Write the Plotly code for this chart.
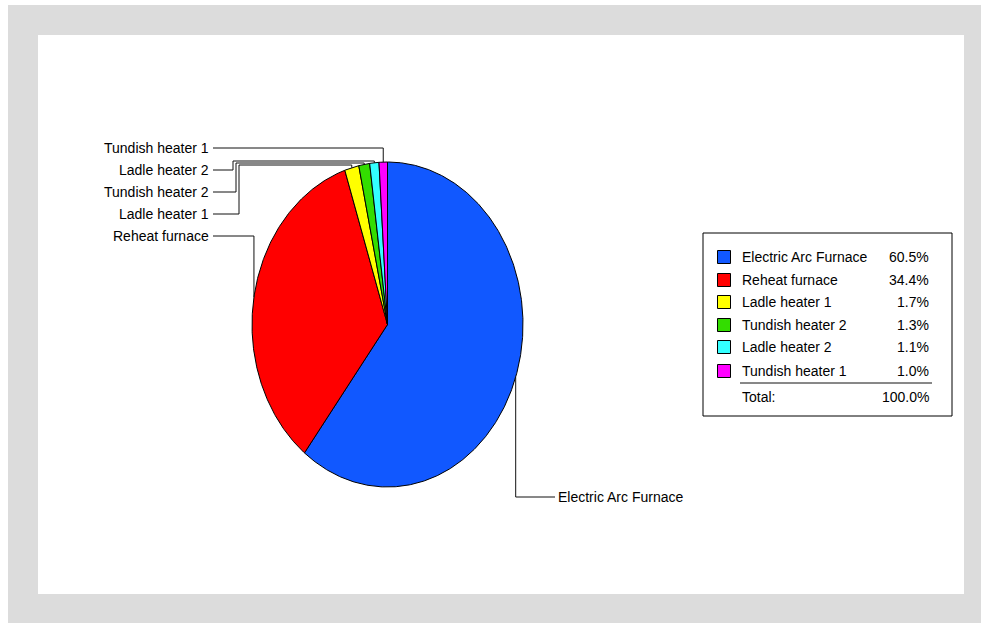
import math
import plotly.graph_objects as go

# ---- data ----
categories = ["Electric Arc Furnace", "Reheat furnace", "Ladle heater 1",
              "Tundish heater 2", "Ladle heater 2", "Tundish heater 1"]
shares = [60.5, 34.4, 1.7, 1.3, 1.1, 1.0]
colors = ["#1158ff", "#ff0000", "#ffff00", "#33dd00", "#33ffff", "#ff00ff"]
total_label = "Total:"

# ---- layout constants (pixel space) ----
W, H = 981, 623
CX, CY, RX, RY = 387.5, 324.5, 135.5, 162.5
FONT = "Liberation Sans"
FS = 14

fig = go.Figure()

def pt(angle_deg, r=1.0):
    a = math.radians(angle_deg)
    return CX + r * RX * math.sin(a), CY - r * RY * math.cos(a)

# pie slices (clockwise from 12 o'clock)
tot = sum(shares)
start = 0.0
mids = []
for name, v, c in zip(categories, shares, colors):
    end = start + 360.0 * v / tot
    n = max(4, int((end - start) / 0.5))
    xs, ys = [CX], [CY]
    for i in range(n + 1):
        x, y = pt(start + (end - start) * i / n)
        xs.append(x); ys.append(y)
    xs.append(CX); ys.append(CY)
    fig.add_trace(go.Scatter(x=xs, y=ys, mode="lines", fill="toself",
                             fillcolor=c, line=dict(color="#000000", width=1),
                             hoverinfo="text", text=name, showlegend=False))
    mids.append((start + end) / 2)
    start = end

shapes = []
annotations = []
# background: white strips at top/left edges, white inner panel
shapes.append(dict(type="rect", xref="x", yref="y", x0=-5, y0=-5, x1=8, y1=H + 5,
                   fillcolor="#ffffff", line=dict(width=0), layer="below"))
shapes.append(dict(type="rect", xref="x", yref="y", x0=-5, y0=-5, x1=W + 5, y1=5,
                   fillcolor="#ffffff", line=dict(width=0), layer="below"))
shapes.append(dict(type="rect", xref="x", yref="y", x0=38, y0=35, x1=964, y1=594,
                   fillcolor="#ffffff", line=dict(width=0), layer="below"))

def seg(x0, y0, x1, y1):
    shapes.append(dict(type="line", xref="x", yref="y", x0=x0, y0=y0, x1=x1, y1=y1,
                       line=dict(color="#101010", width=1)))

def label(text, x, y, anchor):
    annotations.append(dict(text=text, x=x, y=y, xref="x", yref="y", showarrow=False,
                            xanchor=anchor, yanchor="middle",
                            font=dict(family=FONT, size=FS, color="#000000")))

# leader lines: left labels
left_rows = {  # category index -> (label y, elbow x, elbow y)
    5: (148, None, None),
    4: (170, 233, 161),
    3: (192, 236, 163),
    2: (214, 239, 165),
    1: (236, None, None),
}
LX_TEXT, LX_LINE = 211, 213
for idx, (ly, ex, ey) in left_rows.items():
    label(categories[idx], LX_TEXT, ly, "right")
    mx, my = pt(mids[idx])
    if ex is None:
        seg(LX_LINE, ly, mx, ly); seg(mx, ly, mx, my)
    else:
        seg(LX_LINE, ly, ex, ly); seg(ex, ly, ex, ey)
        seg(ex, ey, mx, ey); seg(mx, ey, mx, my)

# right label (largest slice)
mx, my = pt(mids[0])
seg(mx, my, mx, 497); seg(mx, 497, 555, 497)
label(categories[0], 556, 497, "left")

# legend box
shapes.append(dict(type="rect", xref="x", yref="y", x0=703, y0=233, x1=952, y1=416,
                   fillcolor="rgba(0,0,0,0)", line=dict(color="#000000", width=1)))
row_y = [257, 280, 302, 325, 347, 371]
fig.add_trace(go.Scatter(x=[724] * len(categories), y=row_y, mode="markers",
                         marker=dict(symbol="square", size=13, color=colors,
                                     line=dict(color="#000000", width=1)),
                         hoverinfo="skip", showlegend=False))
for name, v, y in zip(categories, shares, row_y):
    label(name, 740, y, "left")
    label(f"{v:.1f}%", 931, y, "right")
seg(740, 383, 932, 383)
label(total_label, 740, 397, "left")
label(f"{sum(shares):.1f}%", 931, 397, "right")

fig.update_layout(
    width=W, height=H, margin=dict(l=0, r=0, t=0, b=0),
    paper_bgcolor="#dcdcdc", plot_bgcolor="rgba(0,0,0,0)",
    xaxis=dict(range=[0, W], visible=False, fixedrange=True),
    yaxis=dict(range=[H, 0], visible=False, fixedrange=True),
    shapes=shapes, annotations=annotations, showlegend=False,
)
fig.write_html("out.html")
